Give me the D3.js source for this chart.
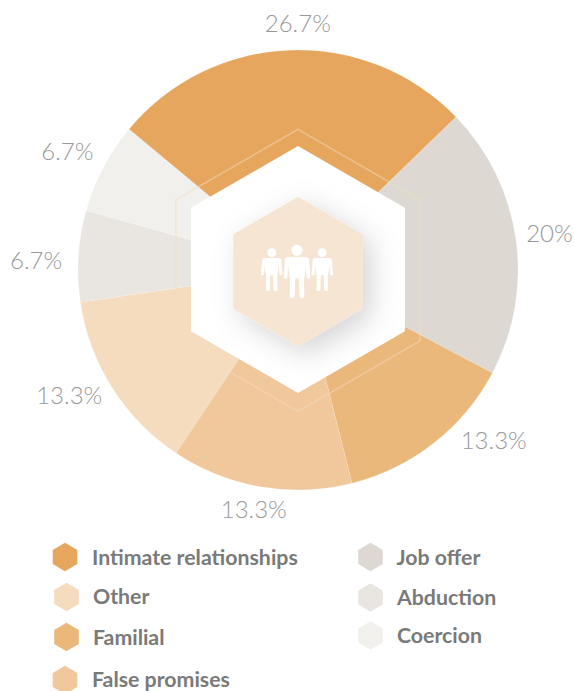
<!DOCTYPE html>
<html><head><meta charset="utf-8">
<script src="https://cdn.jsdelivr.net/npm/d3@7/dist/d3.min.js"></script>
<style>html,body{margin:0;padding:0;background:#fff}svg{display:block}</style>
</head><body><svg id="c" width="574" height="691"></svg>
<script>
const categories = ["Intimate relationships","Job offer","Familial","False promises","Other","Abduction","Coercion"];
const values = [26.7,20,13.3,13.3,13.3,6.7,6.7];
const labels = ["26.7%","20%","13.3%","13.3%","13.3%","6.7%","6.7%"];
const colors = ["#E6A65D","#DDD9D2","#EBB87C","#F0C89C","#F5DCBE","#E9E6E2","#F1F0ED"];
const legendOrder = ["Intimate relationships","Other","Familial","False promises","Job offer","Abduction","Coercion"];

const W=574,cx=298,cy=270,R=220;
const svg=d3.select("#c");
const defs=svg.append("defs");
const f=defs.append("filter").attr("id","sh").attr("x","-40%").attr("y","-40%").attr("width","190%").attr("height","190%");
f.append("feDropShadow").attr("dx",8).attr("dy",8).attr("stdDeviation",14).attr("flood-color","#000").attr("flood-opacity",.17);

const color=d3.scaleOrdinal(categories,colors);
const rad=d=>d*Math.PI/180;
const pie=d3.pie().sort(null).value(d=>d.v).startAngle(rad(-50.2)).endAngle(rad(309.8));
const arc=d3.arc().innerRadius(0).outerRadius(R);
const rows=categories.map((c,i)=>({c,v:values[i],l:labels[i]}));
const arcs=pie(rows);
const g=svg.append("g").attr("transform",`translate(${cx},${cy})`);
g.selectAll("path").data(arcs).join("path").attr("d",arc).attr("fill",d=>color(d.data.c))
  .attr("stroke","#fff").attr("stroke-opacity",.15).attr("stroke-width",.8);

function hex(x,y,r){return d3.range(6).map(i=>{const a=rad(60*i);return [x+r*Math.sin(a),y-r*Math.cos(a)]}).join(" ");}
svg.append("polygon").attr("points",hex(298,270.3,141)).attr("fill","none").attr("stroke","#F5DCBE").attr("stroke-opacity",.5).attr("stroke-width",1.5);
svg.append("polygon").attr("points",hex(298,269.5,123.5)).attr("fill","#fff");
svg.append("polygon").attr("points",hex(298,271.5,74.7)).attr("fill","#F6E5D2").attr("filter","url(#sh)");

// percentage labels: placed along each slice's bisector
const labelR=[246,254,260,244,261,262,259];
const labelShift=[2.1,0,-10.7,0.7,3.6,-1.6,-0.7];
svg.append("g").selectAll("text").data(arcs).join("text")
  .attr("x",(d,i)=>cx+labelR[i]*Math.sin((d.startAngle+d.endAngle)/2+rad(labelShift[i])))
  .attr("y",(d,i)=>cy-labelR[i]*Math.cos((d.startAngle+d.endAngle)/2+rad(labelShift[i]))+8)
  .attr("text-anchor","middle").attr("font-family","Lato").attr("font-weight",300).attr("font-size",24)
  .attr("fill","#999").text(d=>d.data.l);

// people icon
function person(x,y,s){
  const p=svg.append("g").attr("transform",`translate(${x},${y}) scale(${s})`).attr("fill","#fff").attr("stroke","#fff").attr("stroke-linecap","round").attr("stroke-linejoin","round");
  p.append("circle").attr("r",5.6).attr("stroke","none");
  p.append("path").attr("d","M-8.5,8 L8.5,8 L6.2,27 L-6.2,27 Z").attr("stroke-width",2.5);
  p.append("path").attr("d","M-10,9 L-11.5,26.5 M10,9 L11.5,26.5").attr("stroke-width",3.8).attr("fill","none");
  p.append("path").attr("d","M-4.3,26 L-4.8,45.5 M4.3,26 L4.8,45.5").attr("stroke-width",5).attr("fill","none");
}
person(271.7,252.7,.8);person(322.3,252.7,.8);person(297,250.3,1);

// legend
const legendX=[65,66.5,66.5,65,370.5,370.5,370.5];
const legendY=[557,597,637,680,557,597.5,635.5];
const legendTX=[92,93,93,92,396.5,397,397];
const legendTY=[564.5,604,645,687,564.5,605,643];
const lg=svg.append("g").selectAll("g").data(legendOrder).join("g");
lg.append("polygon").attr("points",(d,i)=>hex(legendX[i],legendY[i],14.2)).attr("fill",d=>color(d));
lg.append("text").attr("x",(d,i)=>legendTX[i]).attr("y",(d,i)=>legendTY[i])
  .attr("font-family","Lato").attr("font-weight",700).attr("font-size",21.3).attr("fill","#7a7a7a").text(d=>d);
</script></body></html>
